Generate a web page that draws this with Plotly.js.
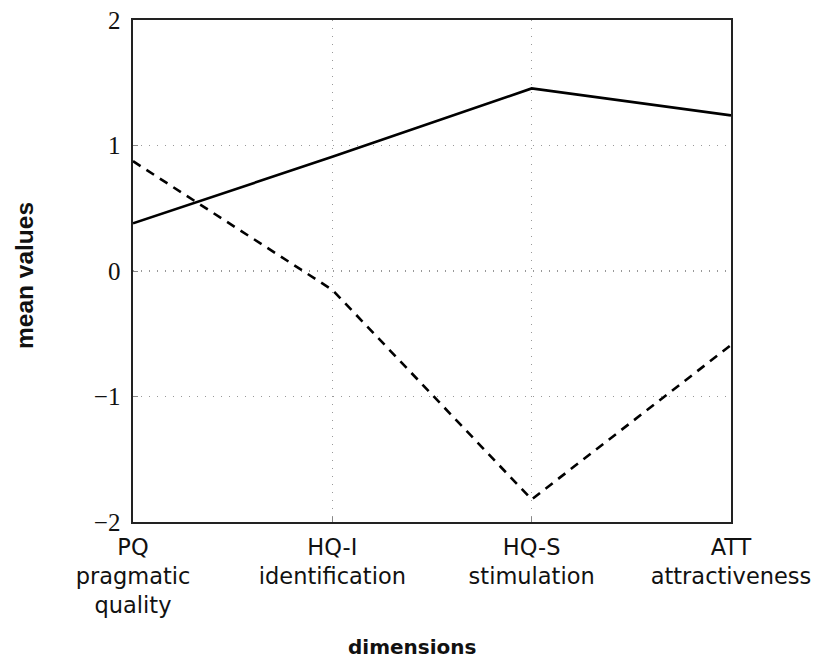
<!DOCTYPE html>
<html>
<head>
<meta charset="utf-8">
<script src="https://cdn.plot.ly/plotly-3.0.1.min.js"></script>
<style>html,body{margin:0;padding:0;background:#fff;}#chart{width:814px;height:660px;}</style>
</head>
<body>
<div id="chart"></div>
<script>
const categories = ["PQ<br>pragmatic<br>quality", "HQ-I<br>identification", "HQ-S<br>stimulation", "ATT<br>attractiveness"];
const solidValues = [0.38, 0.91, 1.455, 1.24];
const dashedValues = [0.875, -0.15, -1.82, -0.59];
const yTickVals = [-2, -1, 0, 1, 2];
const yTickText = ["\u22122", "\u22121", "0", "1", "2"];
const xTitle = "dimensions";
const yTitle = "mean values";

const xIdx = categories.map((c, i) => i);

const traces = [
  {x: xIdx, y: solidValues, mode: "lines", line: {color: "#000", width: 2.6}, hoverinfo: "none"},
  {x: xIdx, y: dashedValues, mode: "lines", line: {color: "#000", width: 2.6, dash: "9px,7px"}, hoverinfo: "none"}
];

const layout = {
  width: 814, height: 660,
  margin: {l: 133, r: 83, t: 20, b: 138},
  paper_bgcolor: "#fff", plot_bgcolor: "#fff",
  showlegend: false,
  xaxis: {
    range: [0, 3], tickvals: xIdx, ticktext: categories,
    showgrid: true, gridcolor: "#999", griddash: "1px,7px", gridwidth: 1.3,
    zeroline: false, showline: true, mirror: true, linecolor: "#222", linewidth: 1.6,
    ticks: "inside", ticklen: 5, tickcolor: "#888",
    ticklabelstandoff: 4,
    tickfont: {family: "DejaVu Sans", size: 22.5, color: "#111"}
  },
  yaxis: {
    range: [-2, 2], tickvals: yTickVals, ticktext: yTickText,
    showgrid: true, gridcolor: "#999", griddash: "1px,7px", gridwidth: 1.3,
    zeroline: false, showline: true, mirror: true, linecolor: "#222", linewidth: 1.6,
    ticks: "inside", ticklen: 5, tickcolor: "#888",
    ticklabelstandoff: 6,
    tickfont: {family: "Liberation Serif", size: 25, color: "#111"}
  },
  annotations: [
    {text: "<b>" + xTitle + "</b>", xref: "paper", yref: "paper", x: (412 - 133) / 598, y: -(647 - 522) / 502,
     xanchor: "center", yanchor: "middle", showarrow: false,
     font: {family: "DejaVu Sans", size: 20, color: "#111"}},
    {text: "<b>" + yTitle + "</b>", xref: "paper", yref: "paper", x: -(133 - 24) / 598, y: (522 - 276) / 502,
     xanchor: "center", yanchor: "middle", showarrow: false, textangle: -90,
     font: {family: "Liberation Sans", size: 24.5, color: "#111"}}
  ]
};

Plotly.newPlot("chart", traces, layout, {displayModeBar: false, staticPlot: true});
</script>
</body>
</html>
